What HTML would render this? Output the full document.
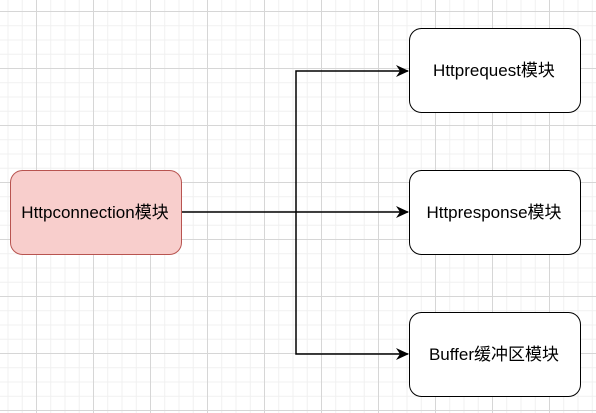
<!DOCTYPE html>
<html><head><style>
body{margin:0;width:596px;height:413px;overflow:hidden;background:#fff;
background-image:
linear-gradient(#d6d6d6 1px,transparent 1px),
linear-gradient(90deg,#d6d6d6 1px,transparent 1px),
linear-gradient(#f0f0f0 1px,transparent 1px),
linear-gradient(90deg,#f0f0f0 1px,transparent 1px);
background-size:57px 57px,57px 57px,14.25px 14.25px,14.25px 14.25px;
background-position:36px 11px,36px 11px,36px 11px,36px 11px;
font-family:"Liberation Sans","Noto Sans CJK SC",sans-serif;}
</style></head><body>
<svg width="596" height="413" style="position:absolute;left:0;top:0">
<defs><marker id="a" markerWidth="13" markerHeight="12" refX="12" refY="6" orient="auto" markerUnits="userSpaceOnUse"><path d="M0,0 L13,6 L0,12 L4,6Z" fill="#000"/></marker></defs>
<g stroke="#000" stroke-width="1.5" fill="none">
<path d="M181,212 H408" marker-end="url(#a)"/>
<path d="M296,212 V71 H408" marker-end="url(#a)"/>
<path d="M296,212 V354 H408" marker-end="url(#a)"/>
</g>
<rect x="10.5" y="170.5" width="171" height="84" rx="12" fill="#f8cecc" stroke="#b85450"/>
<rect x="409.5" y="28.5" width="171" height="84" rx="12" fill="#fff" stroke="#000"/>
<rect x="409.5" y="170.5" width="171" height="84" rx="12" fill="#fff" stroke="#000"/>
<rect x="409.5" y="312.5" width="171" height="84" rx="12" fill="#fff" stroke="#000"/>
<g font-size="17" text-anchor="middle" font-family="Liberation Sans, Noto Sans CJK SC, sans-serif">
<text x="95" y="218">Httpconnection模块</text>
<text x="494" y="76">Httprequest模块</text>
<text x="494" y="218">Httpresponse模块</text>
<text x="494" y="360">Buffer缓冲区模块</text>
</g>
</svg>
</body></html>
